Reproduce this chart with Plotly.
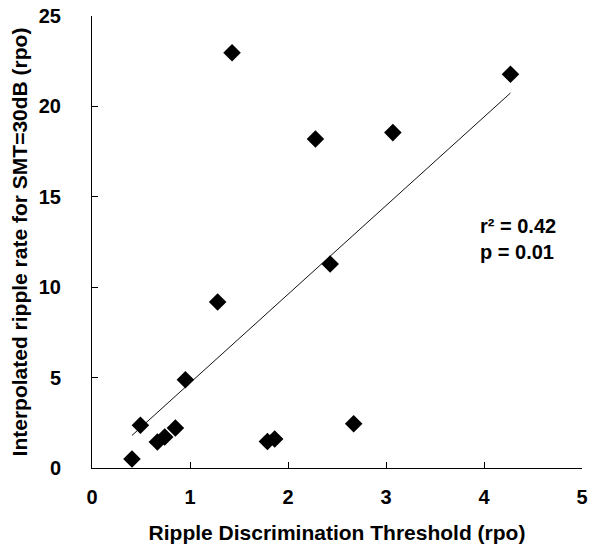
import numpy as np
import plotly.graph_objects as go

# Ripple Discrimination Threshold (rpo)
rdt = [0.408, 0.494, 0.667, 0.742, 0.851, 0.953, 1.282, 1.429, 1.79, 1.864,
       2.28, 2.43, 2.67, 3.07, 4.27]
# Interpolated ripple rate for SMT=30dB (rpo)
rate = [0.50, 2.36, 1.44, 1.71, 2.21, 4.88, 9.18, 22.97, 1.47, 1.60,
        18.2, 11.28, 2.45, 18.55, 21.78]

x_ticks = [0, 1, 2, 3, 4, 5]
y_ticks = [0, 5, 10, 15, 20, 25]
stats_text = ["r² = 0.42", "p = 0.01"]

# Least squares fit computed from the data
slope, intercept = np.polyfit(rdt, rate, 1)
fit_x = np.array([min(rdt), max(rdt)])
fit_y = slope * fit_x + intercept

FONT = "Liberation Sans, Arial, sans-serif"

fig = go.Figure()
fig.add_trace(go.Scatter(x=fit_x, y=fit_y, mode="lines",
                         line=dict(color="#111111", width=1),
                         hoverinfo="skip", showlegend=False))
fig.add_trace(go.Scatter(x=rdt, y=rate, mode="markers",
                         marker=dict(symbol="diamond", size=13.5, color="black",
                                     line=dict(width=0)),
                         showlegend=False))

axis_common = dict(showline=True, linecolor="black", linewidth=1,
                   ticks="inside", ticklen=6, tickwidth=1, tickcolor="black",
                   showgrid=False, zeroline=False, mirror=False,
                   ticklabeloverflow="allow",
                   tickfont=dict(family=FONT, size=20, color="black", weight="bold"))

fig.update_xaxes(range=[0, 5], tickvals=x_ticks, ticklabelstandoff=11,
                 title=dict(text="Ripple Discrimination Threshold (rpo)",
                            font=dict(family=FONT, size=21, color="black", weight="bold"),
                            standoff=18),
                 **axis_common)
fig.update_yaxes(range=[0, 25], tickvals=y_ticks, ticklabelstandoff=26,
                 title=dict(text="Interpolated ripple rate for SMT=30dB (rpo)",
                            font=dict(family=FONT, size=21, color="black", weight="bold"),
                            standoff=5),
                 **axis_common)

for txt, yy in zip(stats_text, [13.39, 11.95]):
    fig.add_annotation(x=3.94, y=yy, xref="x", yref="y", text=txt,
                       showarrow=False, xanchor="left", yanchor="middle",
                       font=dict(family=FONT, size=20, color="black", weight="bold"))

fig.update_layout(width=589, height=545, plot_bgcolor="white", paper_bgcolor="white",
                  margin=dict(l=92, r=7, t=16, b=77, autoexpand=False),
                  font=dict(family=FONT, color="black"))

fig.write_html("out.html", config={"displayModeBar": False},
               post_script="document.body.style.margin='0';document.body.style.overflow='hidden';")
